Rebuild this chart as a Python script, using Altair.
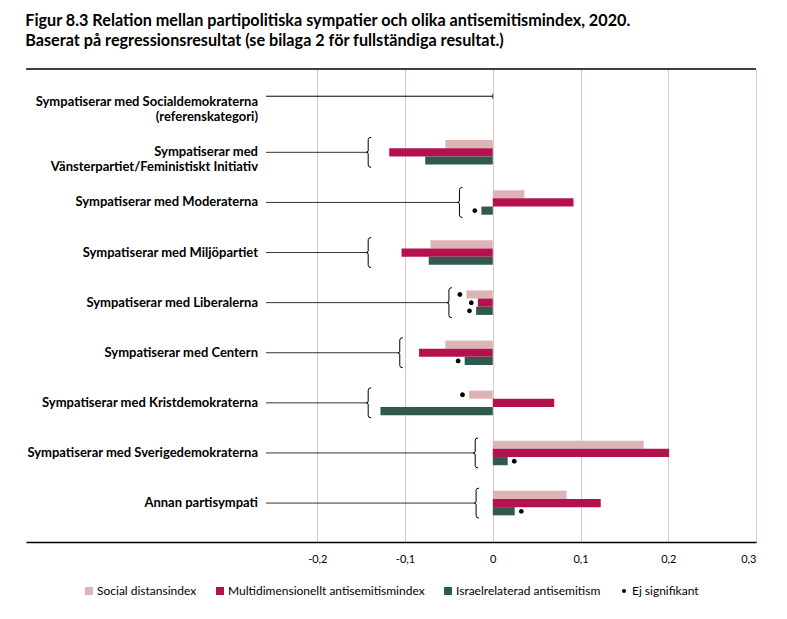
import altair as alt
import pandas as pd

categories = [
    "Sympatiserar med Socialdemokraterna\n(referenskategori)",
    "Sympatiserar med\nVänsterpartiet/Feministiskt Initiativ",
    "Sympatiserar med Moderaterna",
    "Sympatiserar med Miljöpartiet",
    "Sympatiserar med Liberalerna",
    "Sympatiserar med Centern",
    "Sympatiserar med Kristdemokraterna",
    "Sympatiserar med Sverigedemokraterna",
    "Annan partisympati",
]
series_names = [
    "Social distansindex",
    "Multidimensionellt antisemitismindex",
    "Israelrelaterad antisemitism",
]
social = [0.0, -0.054, 0.036, -0.071, -0.030, -0.054, -0.027, 0.172, 0.084]
multi = [0.0, -0.118, 0.092, -0.104, -0.017, -0.084, 0.070, 0.201, 0.123]
israel = [0.0, -0.077, -0.013, -0.073, -0.019, -0.032, -0.128, 0.017, 0.025]
# bracket anchor (x value) for each category (None = reference row)
bracket_at = [None, -0.142, -0.038, -0.142, -0.050, -0.106, -0.142, -0.020, -0.019]
# non-significant coefficients: (category index, series index)
nonsig_cat = [2, 4, 4, 4, 5, 6, 7, 8]
nonsig_ser = [2, 0, 1, 2, 2, 0, 2, 2]
x_ticks = [-0.2, -0.1, 0, 0.1, 0.2, 0.3]
x_domain = [-0.532, 0.3]
legend_keys = series_names + ["Ej signifikant"]
colors = ["#dcb3b7", "#b3124f", "#305a50", "#000000"]

SQ = "M-1,-1H1V1H-1Z"
DOT = "M-0.5,0A0.5,0.5 0 1,0 0.5,0A0.5,0.5 0 1,0 -0.5,0Z"
BRACE = "M0.2,-1Q0,-1 0,-0.85L0,-0.08L-0.12,0L0,0.08L0,0.85Q0,1 0.2,1"

vals = [social, multi, israel]
bars_df = pd.DataFrame(
    [
        {"cat": c, "series": s, "key": s, "value": vals[j][i]}
        for i, c in enumerate(categories)
        for j, s in enumerate(series_names)
    ]
)
dots_df = pd.DataFrame(
    [
        {
            "cat": categories[ci],
            "series": series_names[sj],
            "key": "Ej signifikant",
            "value": vals[sj][ci],
        }
        for ci, sj in zip(nonsig_cat, nonsig_ser)
    ]
)
labels_df = pd.DataFrame({"cat": categories})
br_df = pd.DataFrame(
    [{"cat": c, "bracket": b} for c, b in zip(categories, bracket_at) if b is not None]
)
ref_df = pd.DataFrame({"cat": [categories[0]], "zero": [0.0]})

y_enc = alt.Y(
    "cat:N",
    sort=categories,
    scale=alt.Scale(domain=categories, paddingInner=0.51, paddingOuter=0.475, align=0.44),
    axis=None,
)
yoff_enc = alt.YOffset("series:N", sort=series_names, scale=alt.Scale(domain=series_names))
x_scale = alt.Scale(domain=x_domain, nice=False, zero=False)

x_axis = alt.Axis(
    values=x_ticks,
    labelExpr="replace(toString(datum.value), '.', ',')",
    grid=True,
    gridColor="#d5cdbd",
    gridWidth=1,
    domainColor="black",
    domainWidth=1.5,
    ticks=False,
    labelFont="Lato",
    labelFontSize=11,
    labelColor="black",
    labelPadding=11,
    title=None,
)

bars = alt.Chart(bars_df).mark_bar().encode(
    x=alt.X("value:Q", scale=x_scale, axis=x_axis),
    y=y_enc,
    yOffset=yoff_enc,
    color=alt.Color("key:N", scale=alt.Scale(domain=legend_keys, range=colors), legend=None),
)

top_line = alt.Chart(ref_df).mark_rule(color="black", strokeWidth=1.5).encode(
    x=alt.datum(x_domain[0]), x2=alt.datum(x_domain[1]), y=alt.value(0)
)

labels = alt.Chart(labels_df).mark_text(
    align="right", baseline="middle", font="Lato", fontWeight="bold",
    fontSize=13, lineBreak="\n", lineHeight=15, color="black",
).encode(x=alt.value(232), y=y_enc, text="cat:N")

connectors = alt.Chart(br_df).mark_rule(color="#333333", strokeWidth=1).encode(
    x=alt.X("bracket:Q", scale=x_scale), x2=alt.value(240), y=y_enc
)
ref_line = alt.Chart(ref_df).mark_rule(color="black", strokeWidth=1, yOffset=-6).encode(
    x=alt.X("zero:Q", scale=x_scale), x2=alt.value(240), y=y_enc
)
ref_tick = alt.Chart(ref_df).mark_tick(color="black", thickness=1, size=5, yOffset=-6).encode(
    x=alt.X("zero:Q", scale=x_scale), y=y_enc
)
braces = alt.Chart(br_df).mark_point(
    shape=BRACE, size=900, filled=False, color="black", strokeWidth=1, opacity=1
).encode(x=alt.X("bracket:Q", scale=x_scale), y=y_enc)

leg = alt.Legend(
    orient="none", legendX=57, legendY=516, direction="horizontal", columns=4,
    title=None, labelFont="Lato", labelFontSize=12, labelColor="black", labelLimit=0,
    symbolSize=64, symbolStrokeWidth=0, columnPadding=17, labelOffset=2,
)
dots = alt.Chart(dots_df).transform_calculate(
    dx="datum.value < 0 ? datum.value - 0.0075 : datum.value + 0.0075"
).mark_point(filled=True, size=90, opacity=1).encode(
    x=alt.X("dx:Q", scale=x_scale),
    y=y_enc,
    yOffset=yoff_enc,
    color=alt.Color("key:N", scale=alt.Scale(domain=legend_keys, range=colors), legend=leg),
    shape=alt.Shape("key:N", scale=alt.Scale(domain=legend_keys, range=[SQ, SQ, SQ, DOT]), legend=leg),
)

chart = (
    alt.layer(bars, top_line, labels, connectors, ref_line, ref_tick, braces, dots)
    .resolve_scale(color="independent", shape="independent")
    .properties(
        width=730,
        height=473,
        padding={"left": 17, "top": 5, "right": 10, "bottom": 5},
        title=alt.TitleParams(
            text=[
                "Figur 8.3 Relation mellan partipolitiska sympatier och olika antisemitismindex, 2020.",
                "Baserat på regressionsresultat (se bilaga 2 för fullständiga resultat.)",
            ],
            anchor="start",
            font="Lato",
            fontSize=16.2,
            fontWeight="bold",
            lineHeight=20,
            color="black",
            offset=19,
        ),
    )
    .configure_view(stroke=None)
)

chart.save("out.html", embed_options={"renderer": "svg", "actions": False})
